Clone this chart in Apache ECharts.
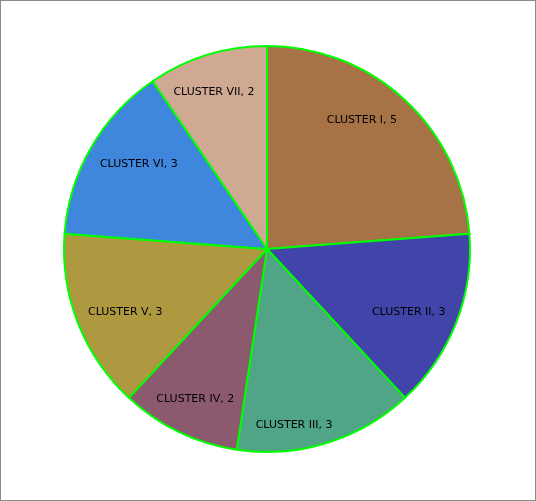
<!DOCTYPE html>
<html><head><meta charset="utf-8">
<script src="https://cdn.jsdelivr.net/npm/echarts@6/dist/echarts.min.js"></script>
<style>html,body{margin:0;padding:0;background:#fff;}#c{width:536px;height:501px;box-sizing:border-box;border:1px solid #8a8a8a;}</style>
</head><body><div id="c"></div>
<script>
var categories = ["CLUSTER I", "CLUSTER II", "CLUSTER III", "CLUSTER IV", "CLUSTER V", "CLUSTER VI", "CLUSTER VII"];
var values = [5, 3, 3, 2, 3, 3, 2];
var colors = ["#a67246", "#4145aa", "#50a587", "#8c5a6e", "#ae9941", "#3e87dc", "#cfa992"];
var labelOffsets = [[-16, -9], [-10, 4], [-21, 20], [-1, 3], [10, 4], [13, -3], [-5, -1]];

var chart = echarts.init(document.getElementById('c'));
chart.setOption({
  animation: false,
  series: [{
    type: 'pie',
    center: [266, 248],
    radius: [0, 203],
    startAngle: 90,
    clockwise: true,
    data: categories.map(function (c, i) { return { name: c, value: values[i], itemStyle: { color: colors[i] } }; }),
    itemStyle: { borderColor: '#00ff00', borderWidth: 2 },
    label: { show: false },
    labelLine: { show: false },
    silent: true
  }, {
    type: 'pie',
    center: [266, 248],
    radius: [117, 203],
    startAngle: 90,
    clockwise: true,
    data: categories.map(function (c, i) { return { name: c, value: values[i], label: { offset: labelOffsets[i] } }; }),
    itemStyle: { color: 'rgba(0,0,0,0)', borderWidth: 0 },
    label: {
      show: true, position: 'inside', color: '#000',
      fontFamily: 'DejaVu Sans', fontSize: 11,
      formatter: function (p) { return p.name + ', ' + p.value; }
    },
    labelLine: { show: false },
    silent: true
  }]
});
</script></body></html>
